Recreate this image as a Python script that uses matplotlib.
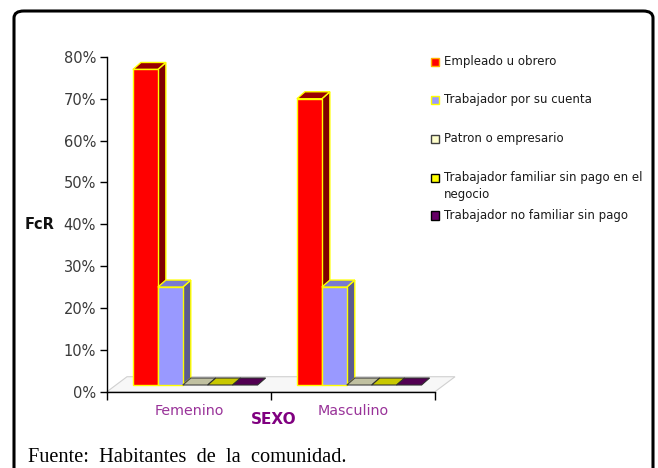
import matplotlib
matplotlib.use("Agg")
import matplotlib.pyplot as plt
from matplotlib.patches import Polygon, Rectangle, FancyBboxPatch

# data (value at top of the front face, in %)
categorias = ["Femenino", "Masculino"]
series = ["Empleado u obrero", "Trabajador por su cuenta", "Patron o empresario",
          "Trabajador familiar sin pago en el\nnegocio", "Trabajador no familiar sin pago"]
femenino = [77, 25, 0, 0, 0]
masculino = [70, 25, 0, 0, 0]
valores = [femenino, masculino]
yticks = [0, 10, 20, 30, 40, 50, 60, 70, 80]

# front, side, top colours for each serie
frente = ["#FF0000", "#9999FF", "#FFFFCC", "#FFFF00", "#660066"]
lado = ["#800000", "#5C5C8E", "#A8A888", "#A8A800", "#400040"]
tapa = ["#990000", "#7A7AD0", "#C0C0A0", "#C8C800", "#520052"]
borde = ["#FFFF00", "#FFFF00", "#404040", "#303030", "#303030"]
borde_ley = ["#FFB000", "#FFFF00", "#404040", "#000000", "#000000"]

W, H = 658, 468
fig = plt.figure(figsize=(W / 100, H / 100), dpi=100)


def fx(x):
    return x / W


def fy(y):
    return 1 - y / H


# outer rounded frame
fig.add_artist(FancyBboxPatch((fx(14), fy(490)), fx(653) - fx(14), fy(11) - fy(490),
                              boxstyle="round,pad=0,rounding_size=0.015",
                              transform=fig.transFigure, fc="none", ec="black", lw=2.2))

ax = fig.add_axes([fx(107), fy(391.7), fx(435) - fx(107), fy(56.9) - fy(391.7)])
ax.set_xlim(0, 2)
ax.set_ylim(0, 80)

base = 1.6      # bars stand a bit inside the floor
dx, dy = 0.049, 1.67   # bar depth
dxf, dyf = 0.122, 3.58  # floor depth
ancho = 0.152
inicio = 0.158

# floor
ax.add_patch(Polygon([(0, 0), (2, 0), (2 + dxf, dyf), (dxf, dyf)], closed=True,
                     fc="#F7F7F7", ec="#D0D0D0", lw=0.8, clip_on=False, zorder=1))

for i, vals in enumerate(valores):
    for j, v in enumerate(vals):
        x0 = i + inicio + j * ancho
        top = max(v, base)
        if v > 0:
            ax.add_patch(Polygon([(x0 + ancho, base), (x0 + ancho + dx, base + dy),
                                  (x0 + ancho + dx, top + dy), (x0 + ancho, top)],
                                 closed=True, fc=lado[j], ec=borde[j], lw=1, zorder=2 + j))
            ax.add_patch(Polygon([(x0, top), (x0 + dx, top + dy), (x0 + ancho + dx, top + dy),
                                  (x0 + ancho, top)], closed=True,
                                 fc=tapa[j], ec=borde[j], lw=1, zorder=2 + j))
            ax.bar(x0, top - base, width=ancho, bottom=base, align="edge",
                   color=frente[j], edgecolor=borde[j], lw=1, zorder=2 + j)
        else:
            ax.add_patch(Polygon([(x0, top), (x0 + dx, top + dy), (x0 + ancho + dx, top + dy),
                                  (x0 + ancho, top)], closed=True,
                                 fc=tapa[j], ec=borde[j], lw=0.8, zorder=2 + j))

ax.spines["top"].set_visible(False)
ax.spines["right"].set_visible(False)
ax.spines["left"].set_linewidth(1)
ax.spines["bottom"].set_linewidth(1)
ax.set_yticks(yticks)
ax.set_yticklabels(["%d%%" % t for t in yticks], fontsize=10.5, color="#3a3a3a")
ax.tick_params(axis="y", length=5, width=1, pad=3)
ax.set_xticks([0, 1, 2])
ax.set_xticklabels([])
ax.tick_params(axis="x", length=6, width=1)
ax.patch.set_alpha(0)

for i, c in enumerate(categorias):
    ax.text(i + 0.5, -4.6, c, ha="center", va="center", fontsize=10.3, color="#993399")

fig.text(fx(274), fy(419), "SEXO", ha="center", va="center", fontsize=11,
         fontweight="bold", color="#800080")
fig.text(fx(40), fy(224.5), "FcR", ha="center", va="center", fontsize=10.5,
         fontweight="bold", color="#111111")

# legend
ley_y = [61, 99, 138, 177, 214.5]
for j, s in enumerate(series):
    fig.add_artist(Rectangle((fx(431), fy(ley_y[j] + 5)), 8 / W, 8 / H,
                             transform=fig.transFigure, fc=frente[j], ec=borde_ley[j], lw=1))
    fig.text(fx(444), fy(ley_y[j] - 6), s, ha="left", va="top", fontsize=8.45,
             color="#1a1a1a", linespacing=1.4)

fig.text(fx(28), fy(457), "Fuente:  Habitantes  de  la  comunidad.", ha="left", va="center",
         fontsize=14.7, family="Liberation Serif", color="black")

fig.savefig("out.png", dpi=100)
